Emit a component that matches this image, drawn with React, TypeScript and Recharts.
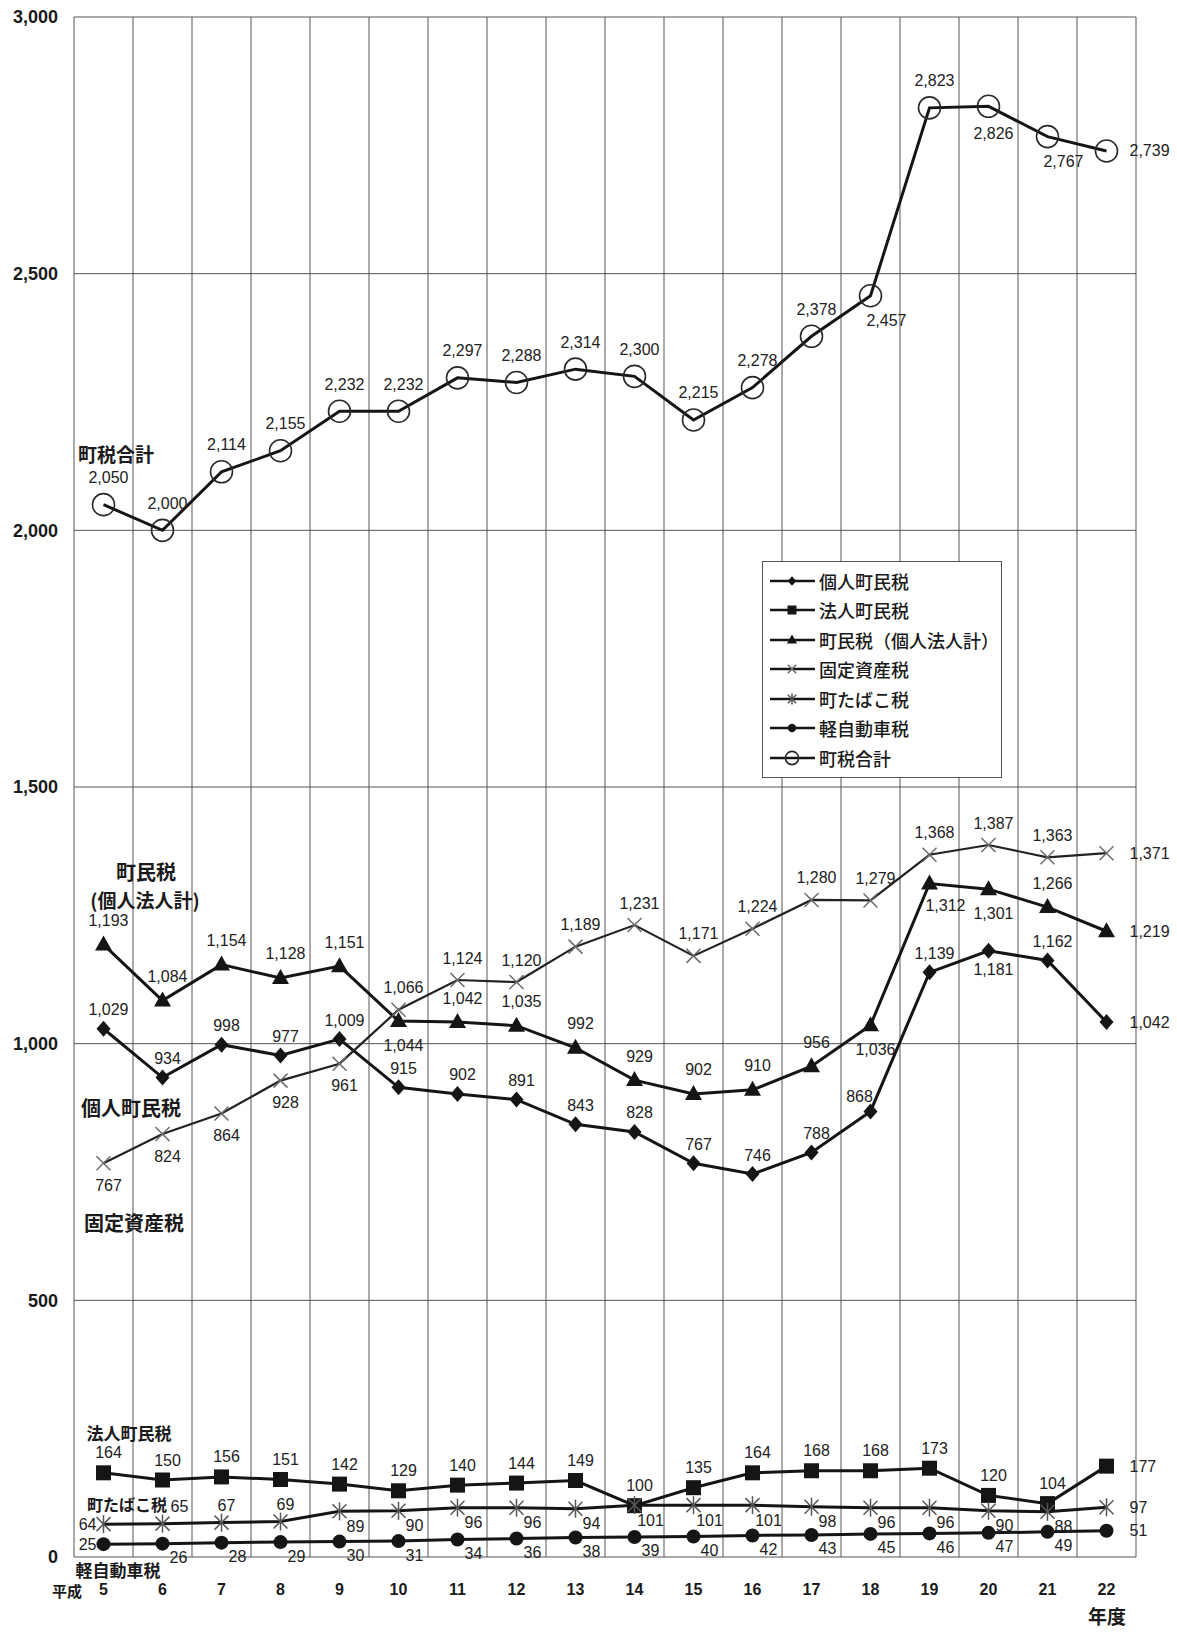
import { LineChart, Line, XAxis, YAxis, CartesianGrid, ReferenceLine, LabelList, Legend } from 'recharts'

// 平成 年度
const years = [5, 6, 7, 8, 9, 10, 11, 12, 13, 14, 15, 16, 17, 18, 19, 20, 21, 22]

// 百万円
const individualTax = [1029, 934, 998, 977, 1009, 915, 902, 891, 843, 828, 767, 746, 788, 868, 1139, 1181, 1162, 1042]
const corporateTax = [164, 150, 156, 151, 142, 129, 140, 144, 149, 100, 135, 164, 168, 168, 173, 120, 104, 177]
const residentTax = [1193, 1084, 1154, 1128, 1151, 1044, 1042, 1035, 992, 929, 902, 910, 956, 1036, 1312, 1301, 1266, 1219]
const propertyTax = [767, 824, 864, 928, 961, 1066, 1124, 1120, 1189, 1231, 1171, 1224, 1280, 1279, 1368, 1387, 1363, 1371]
const tobaccoTax = [64, 65, 67, 69, 89, 90, 96, 96, 94, 101, 101, 101, 98, 96, 96, 90, 88, 97]
const keiCarTax = [25, 26, 28, 29, 30, 31, 34, 36, 38, 39, 40, 42, 43, 45, 46, 47, 49, 51]
const totalTax = [2050, 2000, 2114, 2155, 2232, 2232, 2297, 2288, 2314, 2300, 2215, 2278, 2378, 2457, 2823, 2826, 2767, 2739]

const yTicks = [0, 500, 1000, 1500, 2000, 2500, 3000]

const data = years.map((year, i) => ({
  year,
  individual: individualTax[i],
  corporate: corporateTax[i],
  resident: residentTax[i],
  property: propertyTax[i],
  tobacco: tobaccoTax[i],
  kei: keiCarTax[i],
  total: totalTax[i],
}))

// category boundaries for the vertical grid
const boundaries = [years[0] - 0.5, ...years.map((y) => y + 0.5)]

const INK = '#151515'
const GRID = '#555'
const NUM_FONT = '"Liberation Sans", Arial, sans-serif'
const JP_FONT = '"Noto Sans CJK JP", sans-serif'

type Pos = 'top' | 'bottom' | 'bottomRight' | 'topRight' | 'topLeft' | 'right' | 'left'
type ShapeProps = { cx?: number; cy?: number; s?: number }

const Diamond = ({ cx = 0, cy = 0, s = 1 }: ShapeProps) => (
  <polygon points={`${cx},${cy - 8 * s} ${cx + 7 * s},${cy} ${cx},${cy + 8 * s} ${cx - 7 * s},${cy}`} fill={INK} />
)
const Square = ({ cx = 0, cy = 0, s = 1 }: ShapeProps) => (
  <rect x={cx - 7.5 * s} y={cy - 7.5 * s} width={15 * s} height={15 * s} fill={INK} />
)
const Triangle = ({ cx = 0, cy = 0, s = 1 }: ShapeProps) => (
  <polygon points={`${cx},${cy - 9 * s} ${cx + 8.5 * s},${cy + 6 * s} ${cx - 8.5 * s},${cy + 6 * s}`} fill={INK} />
)
const Cross = ({ cx = 0, cy = 0, s = 1 }: ShapeProps) => (
  <g stroke="#6a6a6a" strokeWidth={1.5}>
    <line x1={cx - 7 * s} y1={cy - 7 * s} x2={cx + 7 * s} y2={cy + 7 * s} />
    <line x1={cx - 7 * s} y1={cy + 7 * s} x2={cx + 7 * s} y2={cy - 7 * s} />
  </g>
)
const Asterisk = ({ cx = 0, cy = 0, s = 1 }: ShapeProps) => (
  <g stroke="#555" strokeWidth={1.5}>
    <line x1={cx - 7 * s} y1={cy - 7 * s} x2={cx + 7 * s} y2={cy + 7 * s} />
    <line x1={cx - 7 * s} y1={cy + 7 * s} x2={cx + 7 * s} y2={cy - 7 * s} />
    <line x1={cx} y1={cy - 9 * s} x2={cx} y2={cy + 9 * s} />
  </g>
)
const Disc = ({ cx = 0, cy = 0, s = 1 }: ShapeProps) => <circle cx={cx} cy={cy} r={7 * s} fill={INK} />
const Ring = ({ cx = 0, cy = 0, s = 1 }: ShapeProps) => (
  <circle cx={cx} cy={cy} r={11 * s} fill="none" stroke="#2a2a2a" strokeWidth={1.6} />
)

type SeriesDef = {
  key: string
  name: string
  Shape: (p: ShapeProps) => JSX.Element
  width: number
  color: string
  gap: number
  place: (i: number) => Pos
}

const last = years.length - 1

const series: SeriesDef[] = [
  {
    key: 'individual', name: '個人町民税', Shape: Diamond, width: 3, color: INK, gap: 19,
    place: (i) => (i === last ? 'right' : i === 13 ? 'topLeft' : i === 15 ? 'bottom' : 'top'),
  },
  {
    key: 'corporate', name: '法人町民税', Shape: Square, width: 3, color: INK, gap: 20,
    place: (i) => (i === last ? 'right' : 'top'),
  },
  {
    key: 'resident', name: '町民税（個人法人計）', Shape: Triangle, width: 3, color: INK, gap: 24,
    place: (i) =>
      i === last ? 'right' : i === 14 ? 'bottomRight' : [5, 13, 15].includes(i) ? 'bottom' : 'top',
  },
  {
    key: 'property', name: '固定資産税', Shape: Cross, width: 2.2, color: '#222', gap: 22,
    place: (i) => (i === last ? 'right' : i < 5 ? 'bottom' : 'top'),
  },
  {
    key: 'tobacco', name: '町たばこ税', Shape: Asterisk, width: 3, color: INK, gap: 17,
    place: (i) => (i === last ? 'right' : i === 0 ? 'left' : i === 1 ? 'topRight' : i < 4 ? 'top' : 'bottomRight'),
  },
  {
    key: 'kei', name: '軽自動車税', Shape: Disc, width: 3, color: INK, gap: 16,
    place: (i) => (i === last ? 'right' : i === 0 ? 'left' : 'bottomRight'),
  },
  {
    key: 'total', name: '町税合計', Shape: Ring, width: 3, color: INK, gap: 27,
    place: (i) => (i === last ? 'right' : [13, 16].includes(i) ? 'bottomRight' : i === 15 ? 'bottom' : 'top'),
  },
]

const fmt = (v: number) => v.toLocaleString('en-US')

function offsetFor(pos: Pos, gap: number) {
  switch (pos) {
    case 'top': return { dx: 5, dy: -gap, anchor: 'middle' }
    case 'bottom': return { dx: 5, dy: gap, anchor: 'middle' }
    case 'bottomRight': return { dx: 16, dy: gap - 2, anchor: 'middle' }
    case 'topRight': return { dx: 17, dy: -gap, anchor: 'middle' }
    case 'topLeft': return { dx: -11, dy: -gap + 4, anchor: 'middle' }
    case 'right': return { dx: 23, dy: 0, anchor: 'start' }
    case 'left': return { dx: -7, dy: 0, anchor: 'end' }
  }
}

const makeLabel = (s: SeriesDef) => (props: any) => {
  const { x, y, value, index } = props
  const o = offsetFor(s.place(index), s.gap)
  return (
    <text
      x={x + o.dx}
      y={y + o.dy}
      textAnchor={o.anchor}
      dominantBaseline="central"
      fontFamily={NUM_FONT}
      fontSize={16}
      fill="#222"
    >
      {fmt(value)}
    </text>
  )
}

// keep the legend rows in the series order, not sorted
function LegendBox({ payload }: any) {
  const shown = new Set((payload ?? []).map((p: any) => p.dataKey))
  return (
    <div
      style={{
        border: `1px solid ${GRID}`,
        background: '#fff',
        padding: '4px 0 4px 6px',
        width: 232,
        fontFamily: JP_FONT,
        fontSize: 18,
        fontWeight: 500,
        color: '#1a1a1a',
      }}
    >
      {series.filter((s) => shown.has(s.key)).map((def) => {
        const { Shape } = def
        return (
          <div key={def.key} style={{ display: 'flex', alignItems: 'center', height: 29.5 }}>
            <svg width={48} height={20} style={{ flex: 'none' }}>
              <line x1={1} y1={10} x2={46} y2={10} stroke={INK} strokeWidth={2.5} />
              <Shape cx={23} cy={10} s={0.6} />
            </svg>
            <span style={{ marginLeft: 2, whiteSpace: 'nowrap' }}>{def.name}</span>
          </div>
        )
      })}
    </div>
  )
}

const notes = [
  { text: '町税合計', x: 116, y: 453, size: 19 },
  { text: '町民税', x: 146, y: 871, size: 20 },
  { text: '(個人法人計)', x: 145, y: 899, size: 19 },
  { text: '個人町民税', x: 131, y: 1107, size: 20 },
  { text: '固定資産税', x: 134, y: 1222, size: 20 },
  { text: '法人町民税', x: 129, y: 1432, size: 17 },
  { text: '町たばこ税', x: 127, y: 1504, size: 16 },
  { text: '軽自動車税', x: 118, y: 1569, size: 17 },
  { text: '平成', x: 67, y: 1590, size: 15 },
  { text: '年度', x: 1107, y: 1615, size: 19 },
]

export default function App() {
  return (
    <div style={{ position: 'absolute', left: 0, top: 0, width: 1177, height: 1632, background: '#fff' }}>
      <LineChart width={1177} height={1632} data={data} margin={{ top: 17, right: 41, bottom: 0, left: 0 }}>
        <CartesianGrid vertical={false} stroke={GRID} strokeWidth={1} />
        {boundaries.map((b) => (
          <ReferenceLine key={b} x={b} stroke={GRID} strokeWidth={1} />
        ))}
        <XAxis
          type="number"
          dataKey="year"
          domain={[boundaries[0], boundaries[boundaries.length - 1]]}
          ticks={years}
          interval={0}
          height={75}
          axisLine={false}
          tickLine={false}
          tickSize={0}
          tickMargin={27}
          tick={{ fontSize: 16, fontWeight: 'bold', fill: '#1a1a1a', fontFamily: NUM_FONT }}
        />
        <YAxis
          type="number"
          domain={[0, 3000]}
          ticks={yTicks}
          width={74}
          axisLine={false}
          tickLine={false}
          tickSize={0}
          tickMargin={16}
          tickFormatter={fmt}
          tick={{ fontSize: 18, fontWeight: 'bold', fill: '#1a1a1a', fontFamily: NUM_FONT }}
        />
        <Legend
          layout="vertical"
          align="center"
          verticalAlign="middle"
          wrapperStyle={{ left: 762, top: 561, width: 240 }}
          content={(p: any) => <LegendBox payload={p.payload} />}
        />
        {series.map((s) => (
          <Line
            key={s.key}
            type="linear"
            dataKey={s.key}
            name={s.name}
            stroke={s.color}
            strokeWidth={s.width}
            isAnimationActive={false}
            dot={(p: any) => <s.Shape key={`${s.key}-${p.index}`} cx={p.cx} cy={p.cy} />}
            activeDot={false}
          >
            <LabelList dataKey={s.key} content={makeLabel(s)} />
          </Line>
        ))}
      </LineChart>
      <svg
        width={1177}
        height={1632}
        style={{ position: 'absolute', left: 0, top: 0, pointerEvents: 'none' }}
      >
        {notes.map((n) => (
          <text
            key={n.text}
            x={n.x}
            y={n.y}
            textAnchor="middle"
            dominantBaseline="central"
            fontFamily={JP_FONT}
            fontWeight="bold"
            fontSize={n.size}
            fill="#1a1a1a"
          >
            {n.text}
          </text>
        ))}
      </svg>
    </div>
  )
}
